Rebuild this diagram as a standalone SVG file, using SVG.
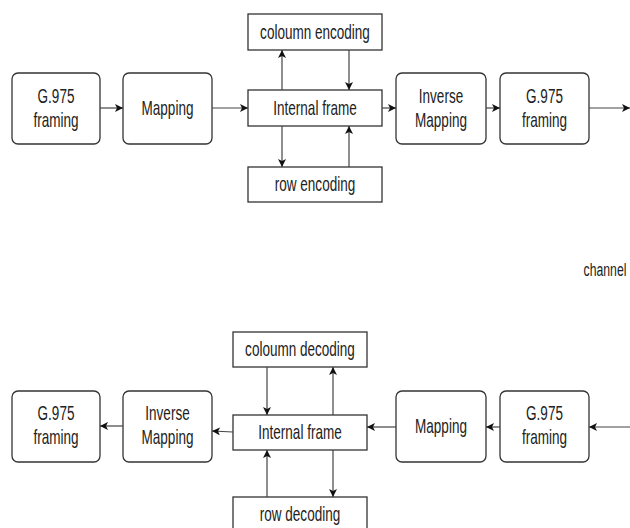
<svg xmlns="http://www.w3.org/2000/svg" width="630" height="528" viewBox="0 0 630 528">
  <defs>
    <marker id="arrow" viewBox="0 0 10 10" refX="10" refY="5" markerWidth="8" markerHeight="8" markerUnits="userSpaceOnUse" orient="auto">
      <path d="M0,0 L10,5 L0,10 L2.5,5 Z" fill="#111"/>
    </marker>
    <style>
      .box { fill: #fff; stroke: #333; stroke-width: 1.3; }
      .lbl { font-family: "Liberation Sans", Arial, sans-serif; font-size: 20.5px; fill: #222; text-anchor: middle; }
      .wire { stroke: #444; stroke-width: 1.2; fill: none; marker-end: url(#arrow); }
    </style>
  </defs>
  <rect width="630" height="528" fill="#fff"/>

  <!-- transmitter chain -->
  <g id="tx-g975">
    <rect class="box" x="12" y="73" width="88" height="71" rx="6"/>
    <g transform="translate(56,0) scale(0.66,1)">
      <text class="lbl" x="0" y="103">G.975</text>
      <text class="lbl" x="0" y="127">framing</text>
    </g>
  </g>
  <g id="tx-mapping">
    <rect class="box" x="123" y="73" width="89" height="71" rx="6"/>
    <g transform="translate(167.5,0) scale(0.66,1)">
      <text class="lbl" x="0" y="115">Mapping</text>
    </g>
  </g>
  <g id="tx-column">
    <rect class="box" x="248" y="14" width="134" height="36"/>
    <g transform="translate(315,0) scale(0.66,1)">
      <text class="lbl" x="0" y="39">coloumn encoding</text>
    </g>
  </g>
  <g id="tx-internal">
    <rect class="box" x="248" y="90" width="134" height="36"/>
    <g transform="translate(315,0) scale(0.66,1)">
      <text class="lbl" x="0" y="115">Internal frame</text>
    </g>
  </g>
  <g id="tx-row">
    <rect class="box" x="248" y="167" width="134" height="35"/>
    <g transform="translate(315,0) scale(0.66,1)">
      <text class="lbl" x="0" y="191">row encoding</text>
    </g>
  </g>
  <g id="tx-inverse">
    <rect class="box" x="396" y="73" width="90" height="71" rx="6"/>
    <g transform="translate(441,0) scale(0.66,1)">
      <text class="lbl" x="0" y="103">Inverse</text>
      <text class="lbl" x="0" y="127">Mapping</text>
    </g>
  </g>
  <g id="tx-g975-out">
    <rect class="box" x="500" y="73" width="89" height="71" rx="6"/>
    <g transform="translate(544.5,0) scale(0.66,1)">
      <text class="lbl" x="0" y="103">G.975</text>
      <text class="lbl" x="0" y="127">framing</text>
    </g>
  </g>

  <!-- channel label -->
  <g id="channel">
    <g transform="translate(605,0) scale(0.68,1)">
      <text class="lbl" x="0" y="276" style="font-size:18px">channel</text>
    </g>
  </g>

  <!-- receiver chain -->
  <g id="rx-g975-out">
    <rect class="box" x="12" y="391" width="88" height="71" rx="6"/>
    <g transform="translate(56,0) scale(0.66,1)">
      <text class="lbl" x="0" y="420">G.975</text>
      <text class="lbl" x="0" y="444">framing</text>
    </g>
  </g>
  <g id="rx-inverse">
    <rect class="box" x="123" y="391" width="89" height="71" rx="6"/>
    <g transform="translate(167.5,0) scale(0.66,1)">
      <text class="lbl" x="0" y="420">Inverse</text>
      <text class="lbl" x="0" y="444">Mapping</text>
    </g>
  </g>
  <g id="rx-column">
    <rect class="box" x="233" y="332" width="134" height="35"/>
    <g transform="translate(300,0) scale(0.66,1)">
      <text class="lbl" x="0" y="356">coloumn decoding</text>
    </g>
  </g>
  <g id="rx-internal">
    <rect class="box" x="233" y="415" width="134" height="35"/>
    <g transform="translate(300,0) scale(0.66,1)">
      <text class="lbl" x="0" y="439">Internal frame</text>
    </g>
  </g>
  <g id="rx-row">
    <rect class="box" x="233" y="497" width="134" height="40"/>
    <g transform="translate(300,0) scale(0.66,1)">
      <text class="lbl" x="0" y="521">row decoding</text>
    </g>
  </g>
  <g id="rx-mapping">
    <rect class="box" x="396" y="391" width="90" height="71" rx="6"/>
    <g transform="translate(441,0) scale(0.66,1)">
      <text class="lbl" x="0" y="433">Mapping</text>
    </g>
  </g>
  <g id="rx-g975-in">
    <rect class="box" x="500" y="391" width="89" height="71" rx="6"/>
    <g transform="translate(544.5,0) scale(0.66,1)">
      <text class="lbl" x="0" y="420">G.975</text>
      <text class="lbl" x="0" y="444">framing</text>
    </g>
  </g>

  <!-- connectors -->
  <g id="connectors">
    <line class="wire" x1="100" y1="108" x2="123" y2="108"/>
    <line class="wire" x1="212" y1="108" x2="248" y2="108"/>
    <line class="wire" x1="282" y1="90" x2="282" y2="50"/>
    <line class="wire" x1="349" y1="50" x2="349" y2="90"/>
    <line class="wire" x1="282" y1="126" x2="282" y2="167"/>
    <line class="wire" x1="349" y1="167" x2="349" y2="126"/>
    <line class="wire" x1="382" y1="108" x2="396" y2="108"/>
    <line class="wire" x1="486" y1="108" x2="500" y2="108"/>
    <line class="wire" x1="589" y1="108" x2="630" y2="108"/>

    <line class="wire" x1="632" y1="427" x2="589" y2="427"/>
    <line class="wire" x1="500" y1="427" x2="486" y2="427"/>
    <line class="wire" x1="396" y1="427" x2="367" y2="427"/>
    <line class="wire" x1="267" y1="367" x2="267" y2="415"/>
    <line class="wire" x1="333" y1="415" x2="333" y2="367"/>
    <line class="wire" x1="267" y1="497" x2="267" y2="450"/>
    <line class="wire" x1="333" y1="450" x2="333" y2="497"/>
    <line class="wire" x1="233" y1="432" x2="212" y2="431"/>
    <line class="wire" x1="123" y1="426" x2="100" y2="426"/>
  </g>
</svg>
